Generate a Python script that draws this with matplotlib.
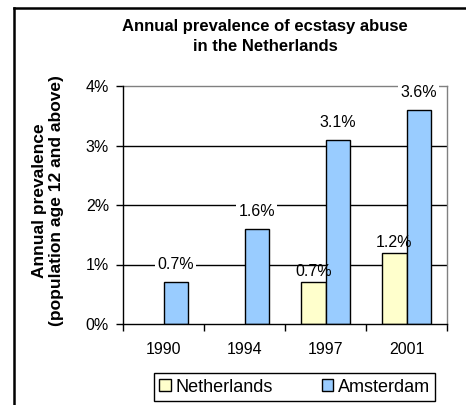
import matplotlib
matplotlib.use("Agg")
import matplotlib.pyplot as plt
from matplotlib.lines import Line2D
import numpy as np

years = ["1990", "1994", "1997", "2001"]
netherlands = [None, None, 0.7, 1.2]
amsterdam = [0.7, 1.6, 3.1, 3.6]
yticks = [0, 1, 2, 3, 4]
ytick_labels = ["0%", "1%", "2%", "3%", "4%"]

plt.rcParams['font.family'] = ['Liberation Sans', 'DejaVu Sans']

fig = plt.figure(figsize=(4.66, 4.05), dpi=100)
ax = fig.add_axes([123/466, 81/405, 324/466, 238/405])

x = np.arange(len(years))
w = 0.3
nl_col = "#FFFFCC"
am_col = "#99CCFF"

nl_x = [xi - w/2 for xi, v in zip(x, netherlands) if v is not None]
nl_v = [v for v in netherlands if v is not None]
ax.bar(nl_x, nl_v, width=w, color=nl_col, edgecolor="black", linewidth=1.0, zorder=3, label="Netherlands")
ax.bar(x + w/2, amsterdam, width=w, color=am_col, edgecolor="black", linewidth=1.0, zorder=3, label="Amsterdam")

for xi, v in zip(nl_x, nl_v):
    ax.annotate(f"{v:.1f}%", (xi, v), xytext=(0, 7.5), textcoords="offset points",
                ha="center", va="center", fontsize=11.5, zorder=5)
for xi, v in zip(x + w/2, amsterdam):
    ax.annotate(f"{v:.1f}%", (xi, v), xytext=(0, 12.5), textcoords="offset points",
                ha="center", va="center", fontsize=11.5, zorder=5,
                bbox=dict(boxstyle="square,pad=0.15", facecolor="white", edgecolor="none"))

ax.set_xlim(-0.5, 3.5)
ax.set_ylim(0, 4)
ax.set_yticks(yticks)
ax.set_yticklabels(ytick_labels, fontsize=11.5)
ax.set_xticks(x)
ax.set_xticklabels(years, fontsize=11.5)
ax.set_xticks(np.arange(-0.5, 3.6, 1.0), minor=True)
ax.tick_params(axis="x", which="major", length=0, pad=13)
ax.tick_params(axis="x", which="minor", length=5, width=1.0, direction="out", color="black")
ax.tick_params(axis="y", which="major", length=5, width=1.0, direction="out", pad=5)

for yv in [1, 2, 3]:
    ax.axhline(yv, color="black", linewidth=1.0, zorder=1)
ax.spines["top"].set_color("#808080")
ax.spines["right"].set_color("#808080")
ax.spines["left"].set_color("black")
ax.spines["bottom"].set_color("black")
for s in ax.spines.values():
    s.set_linewidth(1.0)
ax.spines["left"].set_zorder(4)
ax.spines["bottom"].set_zorder(4)

fig.text(265/466, 1 - 36.5/405, "Annual prevalence of ecstasy abuse\nin the Netherlands",
         ha="center", va="center", fontsize=12, fontweight="bold", linespacing=1.38)
fig.text(48/466, 204/405, "Annual prevalence\n(population age 12 and above)",
         ha="center", va="center", rotation=90, fontsize=12.5, fontweight="bold", linespacing=1.15)

leg = fig.legend(loc="center", bbox_to_anchor=(294.5/466, 1 - 387/405), ncol=2,
                 fontsize=13, frameon=True, fancybox=False, edgecolor="black", framealpha=1,
                 handlelength=0.65, handleheight=0.65, handletextpad=0.25, columnspacing=2.7,
                 borderpad=0.3, borderaxespad=0)
leg.get_frame().set_linewidth(1.0)

fig.add_artist(Line2D([14/466, 14/466], [0, 1 - 8/405], transform=fig.transFigure, color="black", linewidth=1.8))
fig.add_artist(Line2D([14/466, 1], [1 - 8/405, 1 - 8/405], transform=fig.transFigure, color="black", linewidth=1.8))

fig.savefig("out.png", dpi=100)
